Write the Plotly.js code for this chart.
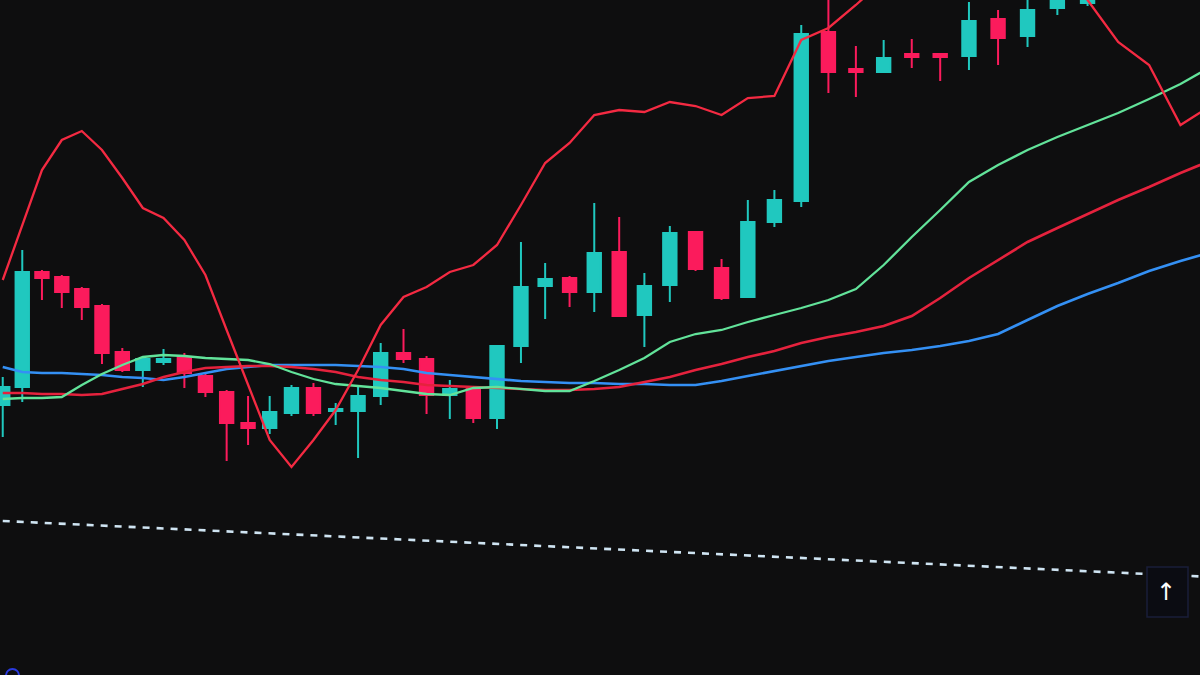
<!DOCTYPE html>
<html>
<head>
<meta charset="utf-8">
<script src="https://cdn.plot.ly/plotly-3.0.1.min.js"></script>
<style>
html,body{margin:0;padding:0;background:#0e0e0f;}
#chart{width:1200px;height:675px;}
</style>
</head>
<body>
<div id="chart"></div>
<script>
// ---- candle data (session index 0..45) ----
const day   = [0,1,2,3,4,5,6,7,8,9,10,11,12,13,14,15,16,17,18,19,20,21,22,23,24,25,26,27,28,29,30,31,32,33,34,35,36,37,38,39,40,41,42,43,44,45];
const open  = [27.0,28.8,40.3,39.8,38.6,36.9,32.3,30.5,31.3,31.8,29.9,28.3,25.2,24.7,26.2,28.7,26.4,26.4,27.9,32.2,31.6,28.0,28.6,25.7,32.9,38.9,39.7,38.3,42.3,36.0,39.0,44.3,40.7,37.8,45.3,47.4,64.3,60.6,60.3,62.1,62.1,61.9,65.6,63.9,66.7,67.2];
const high  = [29.8,42.5,40.5,40.0,38.8,37.1,32.7,31.7,32.6,32.2,30.2,28.5,27.9,27.9,29.0,29.2,27.2,29.0,33.2,34.6,31.9,29.5,28.7,33.0,43.3,41.2,39.9,47.2,45.8,40.2,44.9,44.4,41.6,47.5,48.5,65.0,69.0,62.9,63.5,63.6,62.1,67.3,66.5,68.0,69.5,69.5];
const low   = [23.8,27.3,37.5,36.7,35.5,31.1,30.3,28.8,31.0,28.7,27.8,21.4,23.0,24.1,25.9,25.9,25.0,21.7,27.0,31.2,26.1,25.6,25.2,24.6,31.2,35.6,36.8,36.3,35.8,32.8,37.3,40.4,37.5,37.7,44.8,46.8,58.2,57.8,60.2,60.7,59.4,60.5,61.0,62.8,66.0,66.9];
const close = [28.8,40.3,39.7,38.3,36.8,32.2,30.5,31.6,31.6,30.2,28.3,25.2,24.7,26.3,28.7,26.2,26.6,27.9,32.2,31.6,28.0,28.6,25.7,32.9,38.8,39.6,38.3,42.2,35.9,38.9,44.2,40.6,37.7,45.3,47.5,64.1,60.3,60.3,61.7,61.8,61.8,65.4,63.7,66.5,68.5,68.5];

// ---- indicator data (index 0..49) ----
const lineDay   = [0,1,2,3,4,5,6,7,8,9,10,11,12,13,14,15,16,17,18,19,20,21,22,23,24,25,26,27,28,29,30,31,32,33,34,35,36,37,38,39,40,41,42,43,44,45,46,47,48,49];
const upperBand = [39.5,45.0,50.5,53.5,54.4,52.5,49.7,46.7,45.7,43.5,40.0,34.5,29.0,23.5,20.8,23.5,26.5,30.5,35.0,37.8,38.8,40.3,41.0,43.0,47.0,51.2,53.2,56.0,56.5,56.3,57.3,56.9,56.0,57.7,57.9,63.5,64.7,67.0,69.5,71.5,72.5,73.5,73.5,72.5,70.5,67.5,63.3,61.0,55.0,57.0];
const maFast    = [27.6,27.7,27.7,27.8,29.0,30.1,31.0,31.8,32.0,31.9,31.7,31.6,31.5,31.1,30.3,29.6,29.1,28.9,28.7,28.4,28.1,28.0,28.7,28.8,28.6,28.4,28.4,29.4,30.5,31.7,33.3,34.1,34.5,35.3,36.0,36.7,37.5,38.6,41.0,43.8,46.5,49.3,51.0,52.5,53.8,55.0,56.2,57.6,59.1,60.9];
const maMid     = [28.2,28.2,28.1,28.1,28.0,28.1,28.6,29.1,29.8,30.3,30.7,30.8,30.9,30.9,30.8,30.6,30.3,29.8,29.5,29.3,29.0,28.9,28.8,28.7,28.6,28.5,28.5,28.6,28.8,29.3,29.8,30.5,31.1,31.8,32.4,33.2,33.8,34.3,34.9,35.9,37.7,39.7,41.5,43.3,44.7,46.1,47.5,48.8,50.2,51.5];
const maSlow    = [30.8,30.3,30.2,30.2,30.1,30.0,29.8,29.7,29.5,29.8,30.2,30.6,30.8,31.0,31.0,31.0,31.0,30.9,30.8,30.6,30.2,30.0,29.8,29.6,29.4,29.3,29.2,29.2,29.1,29.1,29.0,29.0,29.4,29.9,30.4,30.9,31.4,31.8,32.2,32.5,32.9,33.4,34.1,35.5,36.9,38.1,39.2,40.4,41.4,42.3];
const levelDay  = [0,49];
const levelVal  = [15.4,9.8];

// photo perspective: candles spread wider to the right -> reversed log time axis
const K = 125;
const px = d => d.map(v => K - v);

const UP = '#20c8bf', DOWN = '#fb1b5c';

const traces = [
  {type:'scatter', mode:'lines', x:px(levelDay), y:levelVal, line:{color:'#cfe4f2', width:2.6, dash:'7px,7px'}, hoverinfo:'skip'},
  {type:'scatter', mode:'lines', x:px(lineDay), y:maSlow, line:{color:'#3490f4', width:2.6}, hoverinfo:'skip'},
  {type:'scatter', mode:'lines', x:px(lineDay), y:maMid, line:{color:'#e5223d', width:2.6}, hoverinfo:'skip'},
  {type:'scatter', mode:'lines', x:px(lineDay), y:maFast, line:{color:'#62e39a', width:2.3}, hoverinfo:'skip'},
  {type:'scatter', mode:'lines', x:px(lineDay), y:upperBand, line:{color:'#f42a42', width:2.3}, hoverinfo:'skip'},
  {type:'candlestick', x:px(day), open:open, high:high, low:low, close:close,
   increasing:{line:{color:UP, width:2}, fillcolor:UP},
   decreasing:{line:{color:DOWN, width:2}, fillcolor:DOWN},
   whiskerwidth:0, hoverinfo:'skip'}
];

const layout = {
  width:1200, height:675,
  margin:{l:0, r:0, t:0, b:0},
  paper_bgcolor:'#0e0e0f', plot_bgcolor:'#0e0e0f',
  showlegend:false,
  boxgap:0.02,
  xaxis:{type:'log', range:[2.0974, 1.8830], showgrid:false, zeroline:false, showticklabels:false, showline:false, ticks:'', rangeslider:{visible:false}, fixedrange:true},
  yaxis:{range:[0, 67.5], showgrid:false, zeroline:false, showticklabels:false, showline:false, ticks:'', fixedrange:true},
  shapes:[
    {type:'rect', xref:'paper', yref:'paper', x0:1147/1200, x1:1188/1200, y0:1-617/675, y1:1-567/675,
     fillcolor:'#0b0c12', line:{color:'#1a1e3a', width:1.5}, layer:'above'},
    {type:'circle', xref:'paper', yref:'paper', x0:6/1200, x1:19/1200, y0:-7/675, y1:6/675,
     fillcolor:'rgba(0,0,0,0)', line:{color:'#2a3ae0', width:2}, layer:'above'}
  ],
  annotations:[
    {xref:'paper', yref:'paper', x:1166/1200, y:1-592/675, text:'↑', showarrow:false,
     font:{family:'DejaVu Sans', size:24, color:'#ffffff'}, xanchor:'center', yanchor:'middle'}
  ]
};

Plotly.newPlot('chart', traces, layout, {displayModeBar:false, staticPlot:true});
</script>
</body>
</html>
